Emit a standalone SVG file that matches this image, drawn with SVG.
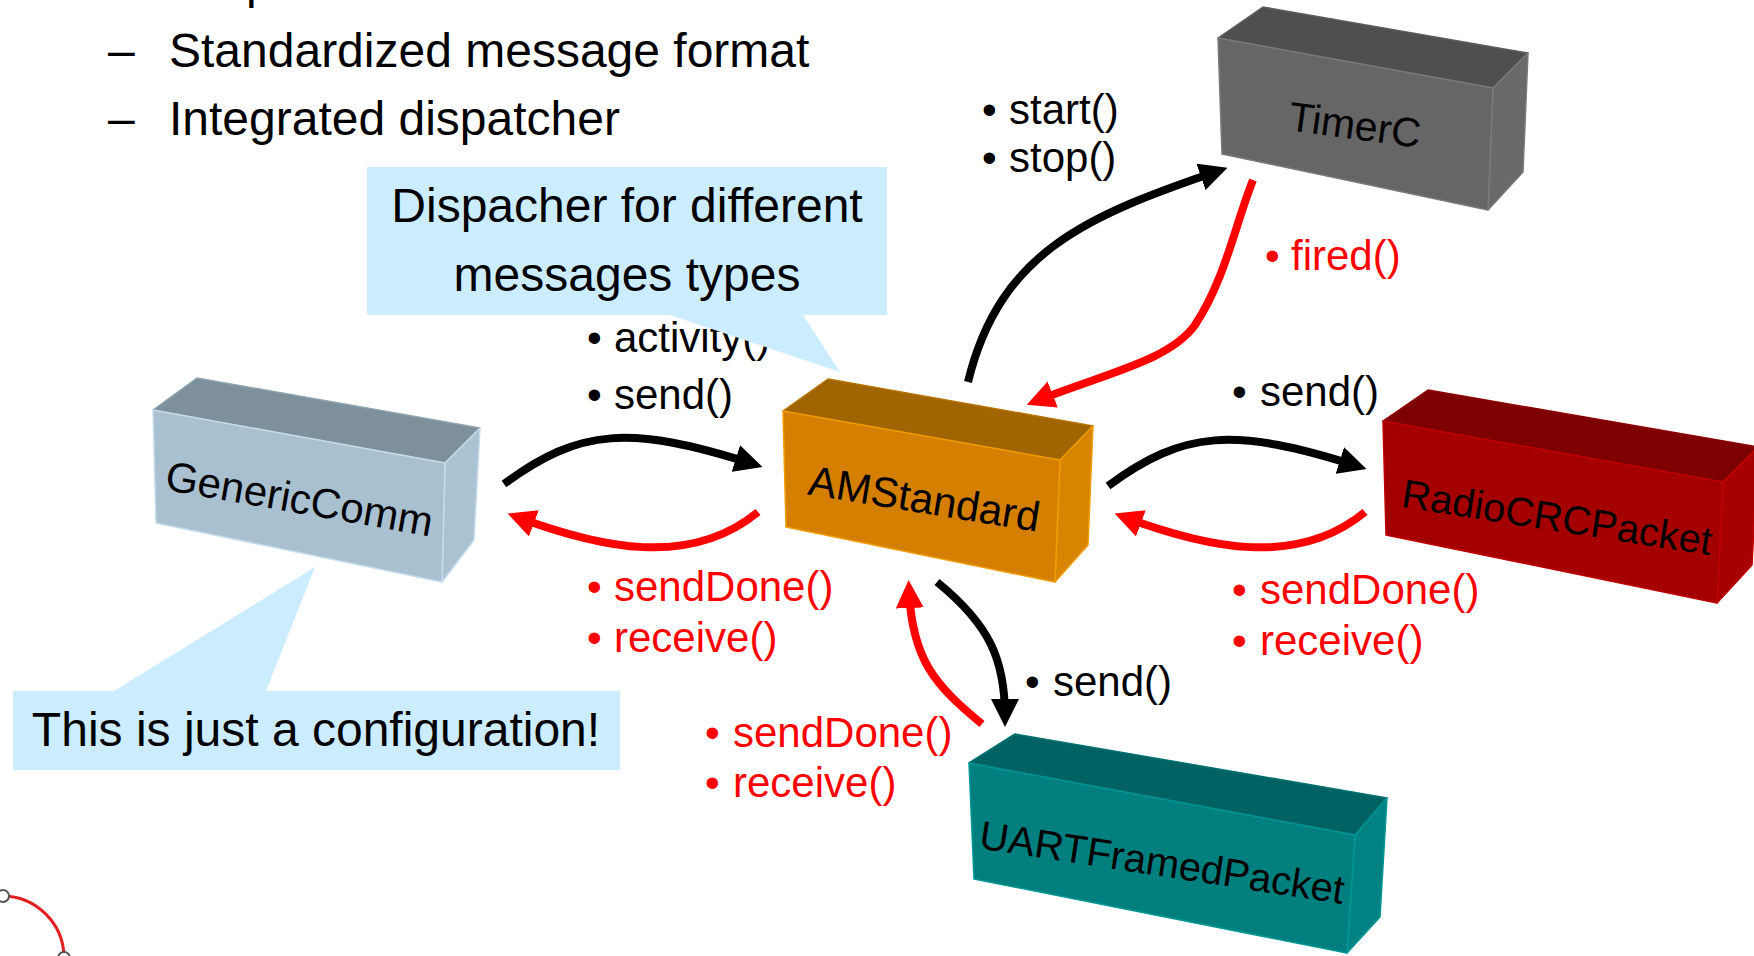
<svg xmlns="http://www.w3.org/2000/svg" width="1754" height="956" viewBox="0 0 1754 956">
  <style>
    text { font-family: "Liberation Sans", Arial, Helvetica, sans-serif; }
    .head { font-size: 48px; fill: #000; }
    .name { font-size: 42px; fill: #000; text-anchor: middle; }
    .lbl { font-size: 42px; }
    .k { fill: #000; }
    .r { fill: #FF0000; }
    .wire { fill: none; stroke-width: 8; stroke-linecap: butt; }
    .wk { stroke: #000; marker-end: url(#headK); }
    .wr { stroke: #FF0000; marker-end: url(#headR); }
    .note { fill: #CCECFF; }
    .note-text { font-size: 48px; fill: #000; text-anchor: middle; }
    .face { stroke-width: 1.5; stroke-linejoin: round; }
  </style>
  <defs>
    <marker id="headK" viewBox="0 0 28 28" refX="18" refY="14" markerWidth="28" markerHeight="28" markerUnits="userSpaceOnUse" orient="auto">
      <path d="M0,0 L28,14 L0,28 Z" fill="#000"/>
    </marker>
    <marker id="headR" viewBox="0 0 28 28" refX="18" refY="14" markerWidth="28" markerHeight="28" markerUnits="userSpaceOnUse" orient="auto">
      <path d="M0,0 L28,14 L0,28 Z" fill="#FF0000"/>
    </marker>
  </defs>

  <rect width="1754" height="956" fill="#FFFFFF"/>

  <!-- slide bullet text -->
  <g id="bullets">
    <text class="head" x="246" y="-2">p</text>
    <text class="head" x="108" y="67">–</text>
    <text class="head" x="169" y="67">Standardized message format</text>
    <text class="head" x="108" y="135">–</text>
    <text class="head" x="169" y="135">Integrated dispatcher</text>
  </g>

  <!-- wiring between components -->
  <g id="connectors">
    <path class="wire wk" d="M504,484 C580,428 630,425 753,464"/>
    <path class="wire wr" d="M758,512 C690,568 600,548 517,517"/>
    <path class="wire wk" d="M968,382 C1000,250 1090,215 1218,171"/>
    <path class="wire wr" d="M1253,180 C1235,225 1225,280 1195,325 C1170,360 1110,372 1036,401"/>
    <path class="wire wk" d="M1108,486 C1184,430 1234,427 1357,466"/>
    <path class="wire wr" d="M1365,512 C1297,568 1207,548 1124,517"/>
    <path class="wire wk" d="M937,582 C990,625 1005,660 1005,717"/>
    <path class="wire wr" d="M982,724 C935,685 912,660 909,590"/>
  </g>

  <g id="GenericComm">
    <polygon class="face" points="153,410 197,378 480,428 445,463" fill="#7D909B" stroke="#8FA3AE"/>
    <polygon class="face" points="445,463 480,428 474,540 442,582" fill="#AAC2D2" stroke="#C6DCEA"/>
    <polygon class="face" points="153,410 445,463 442,582 156,523" fill="#A8C0D0" stroke="#C6DCEA"/>
    <text class="name" transform="translate(297,513) rotate(10)">GenericComm</text>
  </g>

  <g id="AMStandard">
    <polygon class="face" points="783,411 828,379 1093,426 1060,460" fill="#A06400" stroke="#B57300"/>
    <polygon class="face" points="1060,460 1093,426 1088,545 1055,582" fill="#D78400" stroke="#F09C00"/>
    <polygon class="face" points="783,411 1060,460 1055,582 786,527" fill="#D47F00" stroke="#F09C00"/>
    <text class="name" transform="translate(922,513) rotate(9.3)">AMStandard</text>
  </g>

  <g id="TimerC">
    <polygon class="face" points="1218,38 1263,7 1528,53 1493,88" fill="#4F4F4F" stroke="#5E5E5E"/>
    <polygon class="face" points="1493,88 1528,53 1523,172 1488,210" fill="#696969" stroke="#7A7A7A"/>
    <polygon class="face" points="1218,38 1493,88 1488,210 1222,154" fill="#666666" stroke="#7A7A7A"/>
    <text class="name" style="font-size:41px" transform="translate(1353,139) rotate(7.7)">TimerC</text>
  </g>

  <g id="RadioCRCPacket">
    <polygon class="face" points="1383,421 1428,390 1758,447 1723,482" fill="#7F0000" stroke="#8E0000"/>
    <polygon class="face" points="1723,482 1758,447 1752,565 1717,603" fill="#A80000" stroke="#BE0000"/>
    <polygon class="face" points="1383,421 1723,482 1717,603 1386,535" fill="#A50000" stroke="#BE0000"/>
    <text class="name" style="font-size:40px" transform="translate(1555,531) rotate(8.9)">RadioCRCPacket</text>
  </g>

  <g id="UARTFramedPacket">
    <polygon class="face" points="969,763 1015,734 1387,798 1355,835" fill="#006262" stroke="#007070"/>
    <polygon class="face" points="1355,835 1387,798 1380,917 1347,953" fill="#008282" stroke="#009696"/>
    <polygon class="face" points="969,763 1355,835 1347,953 974,879" fill="#007F7F" stroke="#009696"/>
    <text class="name" style="font-size:40px" transform="translate(1160,876) rotate(8.7)">UARTFramedPacket</text>
  </g>

  <!-- interface labels -->
  <g id="labels">
    <text class="lbl k"><tspan x="982" y="124">•</tspan><tspan x="1009" y="124">start()</tspan></text>
    <text class="lbl k"><tspan x="982" y="172">•</tspan><tspan x="1009" y="172">stop()</tspan></text>
    <text class="lbl r"><tspan x="1265" y="270">•</tspan><tspan x="1291" y="270">fired()</tspan></text>
    <text class="lbl k"><tspan x="587" y="352">•</tspan><tspan x="614" y="352">activity()</tspan></text>
    <text class="lbl k"><tspan x="587" y="409">•</tspan><tspan x="614" y="409">send()</tspan></text>
    <text class="lbl r"><tspan x="587" y="601">•</tspan><tspan x="614" y="601">sendDone()</tspan></text>
    <text class="lbl r"><tspan x="587" y="652">•</tspan><tspan x="614" y="652">receive()</tspan></text>
    <text class="lbl k"><tspan x="1232" y="406">•</tspan><tspan x="1260" y="406">send()</tspan></text>
    <text class="lbl r"><tspan x="1232" y="604">•</tspan><tspan x="1260" y="604">sendDone()</tspan></text>
    <text class="lbl r"><tspan x="1232" y="655">•</tspan><tspan x="1260" y="655">receive()</tspan></text>
    <text class="lbl k"><tspan x="1025" y="696">•</tspan><tspan x="1053" y="696">send()</tspan></text>
    <text class="lbl r"><tspan x="705" y="747">•</tspan><tspan x="733" y="747">sendDone()</tspan></text>
    <text class="lbl r"><tspan x="705" y="797">•</tspan><tspan x="733" y="797">receive()</tspan></text>
  </g>

  <!-- callouts -->
  <g id="note-dispatcher">
    <path class="note" d="M367,167 H887 V315 H803 L840,372 L670,315 H367 Z"/>
    <text class="note-text" x="627" y="222">Dispacher for different</text>
    <text class="note-text" x="627" y="291">messages types</text>
  </g>

  <g id="note-config">
    <path class="note" d="M13,691 H114 L315,567 L266,691 H620 V770 H13 Z"/>
    <text class="note-text" x="316" y="746">This is just a configuration!</text>
  </g>

  <!-- corner logo fragment -->
  <g id="logo">
    <circle cx="2" cy="958" r="62" fill="none" stroke="#E02020" stroke-width="3"/>
    <circle cx="3" cy="896" r="6" fill="#FFFFFF" stroke="#555555" stroke-width="2"/>
    <circle cx="64" cy="958" r="6" fill="#FFFFFF" stroke="#555555" stroke-width="2"/>
  </g>
</svg>
